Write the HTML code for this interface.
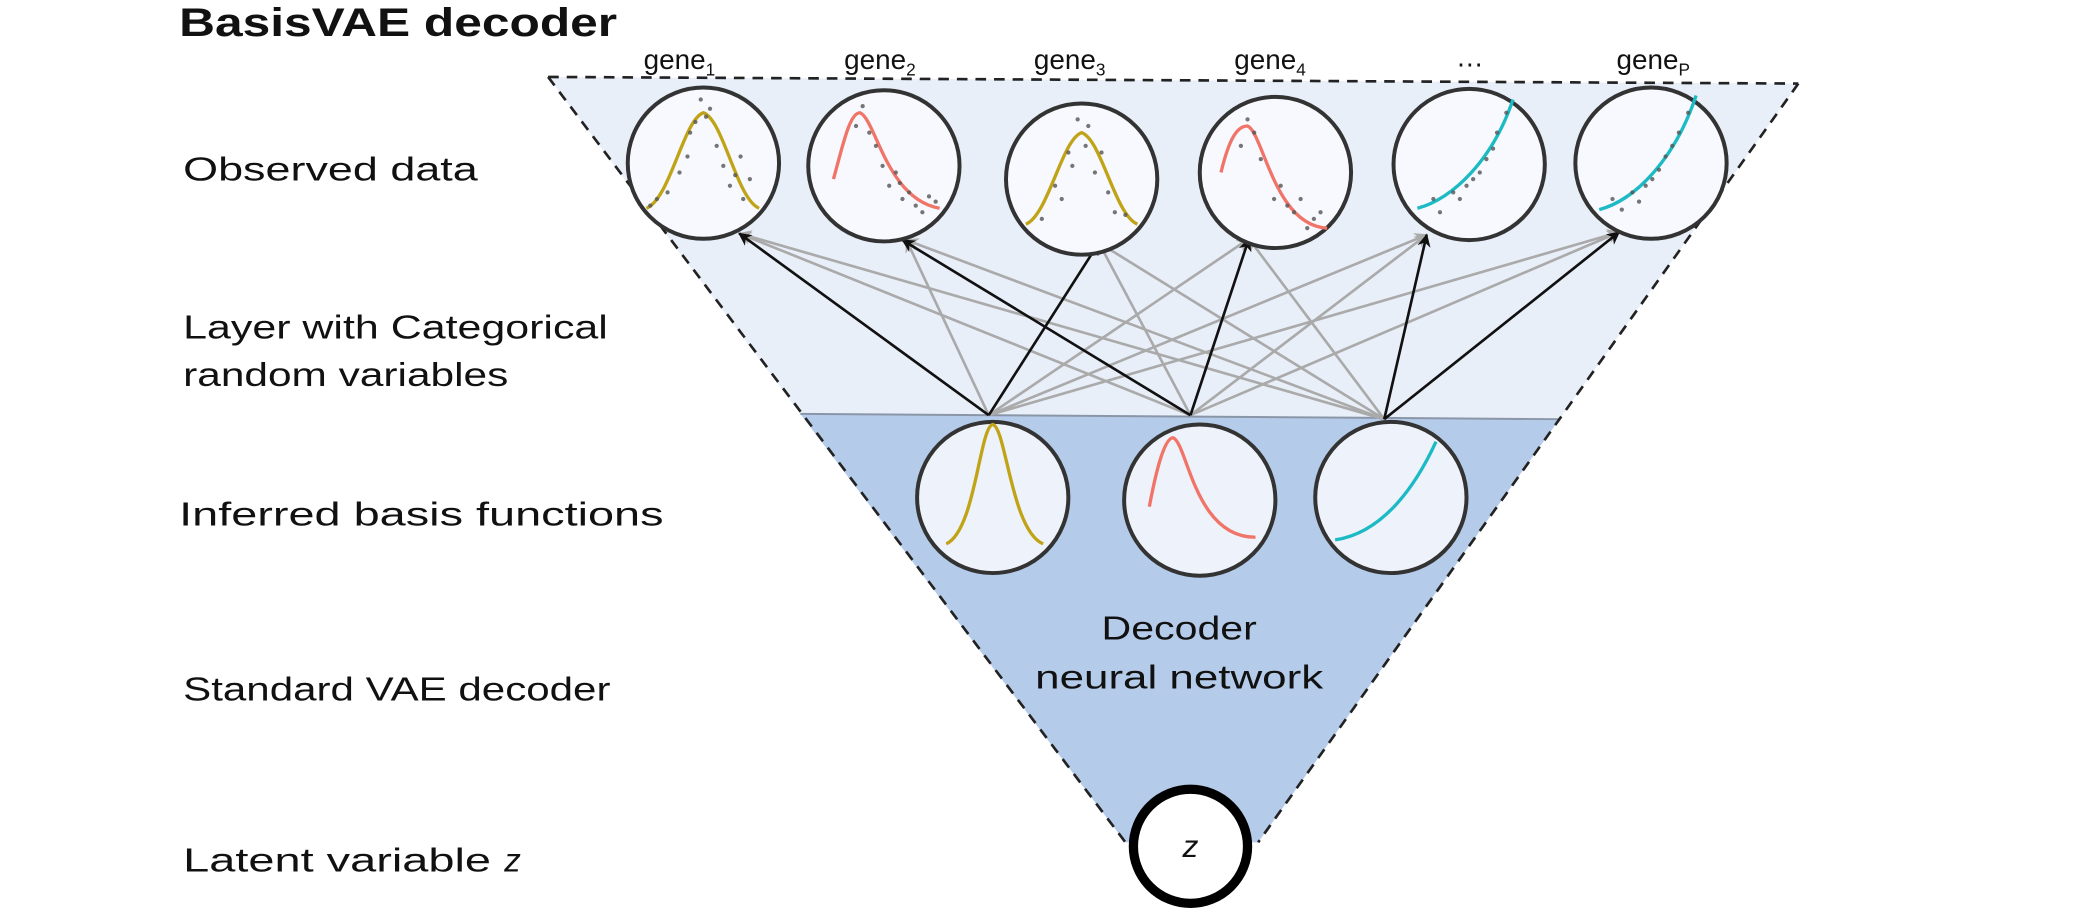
<!DOCTYPE html>
<html><head><style>
html,body{margin:0;padding:0;background:#fff;}
svg{display:block;}
text{font-family:"Liberation Sans",sans-serif;fill:#111;}
</style></head><body>
<svg width="2081" height="910" viewBox="0 0 1568 686" preserveAspectRatio="none" xmlns="http://www.w3.org/2000/svg">
<defs>
<marker id="ab" markerWidth="10" markerHeight="10" refX="9" refY="5" orient="auto" markerUnits="userSpaceOnUse"><path d="M0,0 L10,5 L0,10 L3,5 z" fill="#111"/></marker>
<marker id="ag" markerWidth="10" markerHeight="10" refX="9" refY="5" orient="auto" markerUnits="userSpaceOnUse"><path d="M0,0 L10,5 L0,10 L3,5 z" fill="#aaa"/></marker>
</defs>
<polygon points="413,58 1355,63 1175,316 603,312" fill="#e9eff9"/>
<polygon points="603,312 1175,316 948,635 848,635" fill="#b5cbea"/>
<line x1="603" y1="312" x2="1175" y2="316" stroke="#8a96a8" stroke-width="1.5"/>
<g stroke="#222" stroke-width="2" stroke-dasharray="8,6" fill="none">
<line x1="413" y1="58" x2="1355" y2="63"/>
<line x1="413" y1="58" x2="848" y2="635"/>
<line x1="1355" y1="63" x2="948" y2="635"/>
</g>
<text x="135" y="27" font-size="30" font-weight="bold" textLength="330" lengthAdjust="spacingAndGlyphs">BasisVAE decoder</text>
<g font-size="25" lengthAdjust="spacingAndGlyphs">
<text x="138" y="136" textLength="222" lengthAdjust="spacingAndGlyphs">Observed data</text>
<text x="138" y="255" textLength="320" lengthAdjust="spacingAndGlyphs">Layer with Categorical</text>
<text x="138" y="291" textLength="245" lengthAdjust="spacingAndGlyphs">random variables</text>
<text x="135" y="396" textLength="365" lengthAdjust="spacingAndGlyphs">Inferred basis functions</text>
<text x="138" y="528" textLength="322" lengthAdjust="spacingAndGlyphs">Standard VAE decoder</text>
<text x="138" y="657" textLength="232" lengthAdjust="spacingAndGlyphs">Latent variable</text>
<text x="380" y="657" font-style="italic">z</text>
<text x="830" y="482" textLength="117" lengthAdjust="spacingAndGlyphs">Decoder</text>
<text x="780" y="519" textLength="217" lengthAdjust="spacingAndGlyphs">neural network</text>
</g>
<g font-size="21">
<text x="485" y="52">gene<tspan font-size="13" dy="5">1</tspan></text>
<text x="636" y="52">gene<tspan font-size="13" dy="5">2</tspan></text>
<text x="779" y="52">gene<tspan font-size="13" dy="5">3</tspan></text>
<text x="930" y="52">gene<tspan font-size="13" dy="5">4</tspan></text>
<text x="1097" y="50">…</text>
<text x="1218" y="52">gene<tspan font-size="13" dy="5">P</tspan></text>
</g>
<g stroke="#aaa" stroke-width="2" marker-end="url(#ag)">
<line x1="745" y1="313" x2="683" y2="181"/>
<line x1="745" y1="313" x2="941" y2="180"/>
<line x1="745" y1="313" x2="1075" y2="177"/>
<line x1="745" y1="313" x2="1220" y2="175"/>
<line x1="897" y1="313" x2="557" y2="176"/>
<line x1="897" y1="313" x2="828" y2="183"/>
<line x1="897" y1="313" x2="1075" y2="177"/>
<line x1="897" y1="313" x2="1220" y2="175"/>
<line x1="1043" y1="316" x2="557" y2="176"/>
<line x1="1043" y1="316" x2="683" y2="181"/>
<line x1="1043" y1="316" x2="828" y2="183"/>
<line x1="1043" y1="316" x2="941" y2="180"/>
</g>
<g stroke="#111" stroke-width="2" marker-end="url(#ab)">
<line x1="745" y1="313" x2="557" y2="176"/>
<line x1="745" y1="313" x2="828" y2="183"/>
<line x1="897" y1="313" x2="680" y2="181"/>
<line x1="897" y1="313" x2="941" y2="180"/>
<line x1="1043" y1="316" x2="1075" y2="177"/>
<line x1="1043" y1="316" x2="1220" y2="175"/>
</g>
<g fill="#f7f9fe" stroke="#333" stroke-width="3">
<circle cx="530" cy="123" r="57"/><circle cx="666" cy="125" r="57"/><circle cx="815" cy="135" r="57"/>
<circle cx="961" cy="130" r="57"/><circle cx="1107" cy="124" r="57"/><circle cx="1244" cy="123" r="57"/>
</g>
<g fill="#eef2fa" stroke="#333" stroke-width="3">
<circle cx="748" cy="375" r="57"/><circle cx="904" cy="377" r="57"/><circle cx="1048" cy="375" r="57"/>
</g>
<circle cx="897" cy="638" r="43" fill="#fff" stroke="#000" stroke-width="7"/>
<text x="897" y="646" font-size="24" font-style="italic" text-anchor="middle">z</text>
<g fill="none" stroke-width="2.5">
<path d="M487,157 C505,150 515,90 530,85 C545,90 555,150 572,157" stroke="#c0a316"/>
<path d="M773,169 C790,162 800,105 815,100 C830,105 840,162 857,169" stroke="#c0a316"/>
<path d="M628,135 C635,110 640,85 648,85 C660,90 668,150 708,157" stroke="#f07468"/>
<path d="M920,130 C926,105 932,95 940,95 C952,100 960,170 1000,172" stroke="#f07468"/>
<path d="M1068,157 C1095,150 1125,120 1140,75" stroke="#1bbac4"/>
<path d="M1205,158 C1232,151 1262,120 1278,72" stroke="#1bbac4"/>
<path d="M713,410 C735,400 738,322 748,320 C758,322 762,400 786,410" stroke="#c0a316"/>
<path d="M866,382 C872,350 878,330 884,330 C895,335 900,405 946,405" stroke="#f07468"/>
<path d="M1006,407 C1040,402 1065,370 1082,333" stroke="#1bbac4"/>
</g>
<g fill="#555" opacity="0.8">
<circle cx="520" cy="100" r="1.6"/><circle cx="535" cy="82" r="1.6"/><circle cx="540" cy="110" r="1.6"/><circle cx="512" cy="130" r="1.6"/><circle cx="550" cy="140" r="1.6"/><circle cx="560" cy="150" r="1.6"/><circle cx="495" cy="150" r="1.6"/><circle cx="528" cy="75" r="1.6"/><circle cx="545" cy="125" r="1.6"/><circle cx="565" cy="135" r="1.6"/><circle cx="524" cy="92" r="1.6"/><circle cx="518" cy="118" r="1.6"/><circle cx="554" cy="132" r="1.6"/><circle cx="503" cy="145" r="1.6"/><circle cx="532" cy="88" r="1.6"/><circle cx="558" cy="118" r="1.6"/><circle cx="490" cy="155" r="1.6"/>
<circle cx="650" cy="80" r="1.6"/><circle cx="660" cy="110" r="1.6"/><circle cx="670" cy="140" r="1.6"/><circle cx="680" cy="150" r="1.6"/><circle cx="690" cy="155" r="1.6"/><circle cx="700" cy="148" r="1.6"/><circle cx="645" cy="95" r="1.6"/><circle cx="675" cy="130" r="1.6"/><circle cx="695" cy="160" r="1.6"/><circle cx="665" cy="125" r="1.6"/><circle cx="685" cy="145" r="1.6"/><circle cx="655" cy="100" r="1.6"/><circle cx="705" cy="152" r="1.6"/><circle cx="678" cy="138" r="1.6"/>
<circle cx="805" cy="115" r="1.6"/><circle cx="820" cy="95" r="1.6"/><circle cx="825" cy="130" r="1.6"/><circle cx="800" cy="150" r="1.6"/><circle cx="840" cy="160" r="1.6"/><circle cx="785" cy="165" r="1.6"/><circle cx="835" cy="145" r="1.6"/><circle cx="812" cy="90" r="1.6"/><circle cx="818" cy="110" r="1.6"/><circle cx="808" cy="125" r="1.6"/><circle cx="830" cy="115" r="1.6"/><circle cx="848" cy="162" r="1.6"/><circle cx="795" cy="140" r="1.6"/>
<circle cx="940" cy="90" r="1.6"/><circle cx="950" cy="120" r="1.6"/><circle cx="960" cy="150" r="1.6"/><circle cx="975" cy="160" r="1.6"/><circle cx="990" cy="165" r="1.6"/><circle cx="985" cy="172" r="1.6"/><circle cx="935" cy="110" r="1.6"/><circle cx="965" cy="140" r="1.6"/><circle cx="945" cy="100" r="1.6"/><circle cx="970" cy="155" r="1.6"/><circle cx="980" cy="150" r="1.6"/><circle cx="995" cy="160" r="1.6"/>
<circle cx="1080" cy="150" r="1.6"/><circle cx="1095" cy="145" r="1.6"/><circle cx="1110" cy="135" r="1.6"/><circle cx="1120" cy="120" r="1.6"/><circle cx="1128" cy="100" r="1.6"/><circle cx="1135" cy="85" r="1.6"/><circle cx="1085" cy="160" r="1.6"/><circle cx="1105" cy="140" r="1.6"/><circle cx="1115" cy="130" r="1.6"/><circle cx="1100" cy="150" r="1.6"/><circle cx="1125" cy="112" r="1.6"/>
<circle cx="1215" cy="150" r="1.6"/><circle cx="1230" cy="145" r="1.6"/><circle cx="1245" cy="135" r="1.6"/><circle cx="1255" cy="118" r="1.6"/><circle cx="1265" cy="100" r="1.6"/><circle cx="1272" cy="85" r="1.6"/><circle cx="1222" cy="158" r="1.6"/><circle cx="1240" cy="140" r="1.6"/><circle cx="1250" cy="128" r="1.6"/><circle cx="1235" cy="152" r="1.6"/><circle cx="1260" cy="110" r="1.6"/>
</g>
</svg>
</body></html>
